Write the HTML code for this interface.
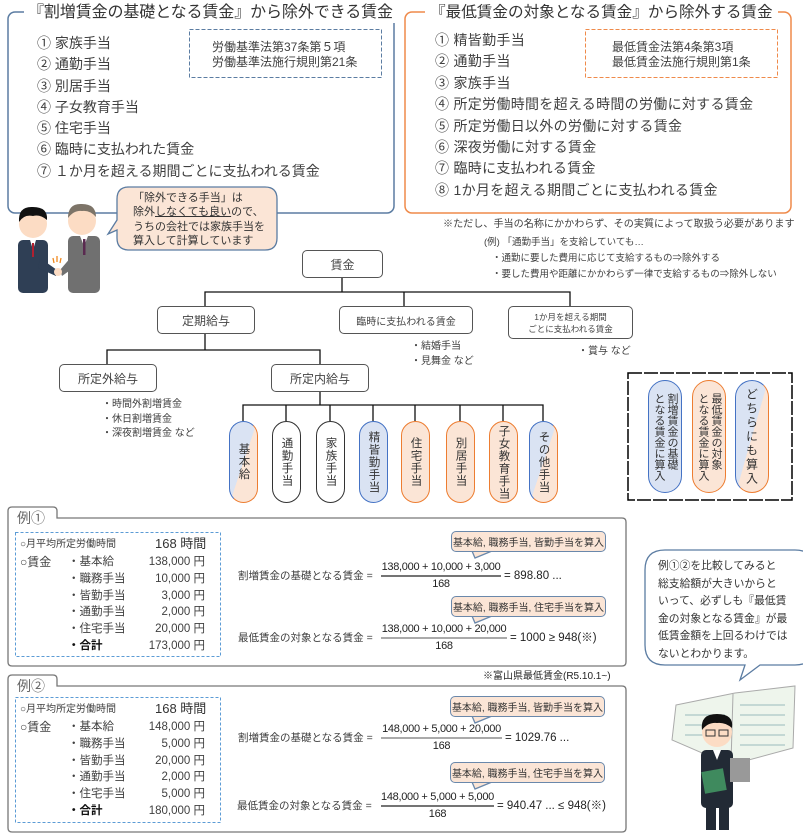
<!DOCTYPE html>
<html><head><meta charset="utf-8">
<style>
*{margin:0;padding:0;box-sizing:border-box}
body{width:803px;height:835px;position:relative;background:#fff;font-family:"Liberation Sans","Noto Sans CJK JP",sans-serif;color:#404040;overflow:hidden}
.a{position:absolute;white-space:nowrap}
.pill{position:absolute;width:29px;height:82px;border-radius:15px;border:1.5px solid #333;writing-mode:vertical-rl;font-size:11.5px;display:flex;align-items:center;justify-content:center;color:#333;letter-spacing:1px}
.tb{position:absolute;border:1.3px solid #555;border-radius:5px;background:#fff;display:flex;align-items:center;justify-content:center;text-align:center;color:#444}
.co{position:absolute;background:#fbe5d6;border:1.3px solid #6a88ab;border-radius:5px;font-size:10px;display:flex;align-items:center;justify-content:center;color:#333;white-space:nowrap}
.fr{position:absolute;text-align:center;font-size:11px;letter-spacing:-0.3px;color:#222;white-space:nowrap}
</style></head><body>

<svg class="a" style="left:0;top:0" width="803" height="835">
 <rect x="8" y="12" width="386" height="201" rx="7" fill="none" stroke="#5b7ca2" stroke-width="1.5"/>
 <rect x="405" y="12" width="386" height="201" rx="7" fill="none" stroke="#ef8a4a" stroke-width="1.5"/>
 <rect x="189.5" y="29.5" width="192" height="48" fill="none" stroke="#5b7ca2" stroke-width="1" stroke-dasharray="4,2"/>
 <rect x="585.5" y="29.5" width="192" height="48" fill="none" stroke="#ef8a4a" stroke-width="1" stroke-dasharray="4,2"/>
 <path d="M129,187 H265 Q277,187 277,199 V238 Q277,250 265,250 H129 Q117,250 117,238 V230 L108,234 L117,220 V199 Q117,187 129,187 Z" fill="#fbe5d6" stroke="#5b7ca2" stroke-width="1.3"/>
 <g stroke="#111" stroke-width="1.3" fill="none">
  <path d="M342,278 V292 M205,306 V292 H570 V306 M404,292 V306"/>
  <path d="M205,334 V350 H107 V364 M205,350 H320 V364"/>
  <path d="M320,392 V405 M243,421 V405 H543 V421 M286,405 V421 M330,405 V421 M373,405 V421 M415,405 V421 M460,405 V421 M503,405 V421"/>
 </g>
 <rect x="628" y="373" width="164" height="127" fill="none" stroke="#000" stroke-width="1.5" stroke-dasharray="14,2"/>
 <path d="M8,518 V662 Q8,666 12,666 H622 Q626,666 626,662 V522 Q626,518 622,518 H57 V511 Q57,507 53,507 H12 Q8,507 8,511 Z" fill="none" stroke="#777" stroke-width="1.3"/>
 <path d="M8,686 V828 Q8,832 12,832 H622 Q626,832 626,828 V690 Q626,686 622,686 H57 V679 Q57,675 53,675 H12 Q8,675 8,679 Z" fill="none" stroke="#777" stroke-width="1.3"/>
 <rect x="15.5" y="532.5" width="205" height="124" fill="none" stroke="#5b9bd5" stroke-width="1" stroke-dasharray="3,2"/>
 <rect x="15.5" y="697.5" width="205" height="125" fill="none" stroke="#5b9bd5" stroke-width="1" stroke-dasharray="3,2"/>
 <g fill="#fbe5d6" stroke="#6a88ab" stroke-width="1.3">
  <path d="M472,551 L475,558 L492,551"/>
  <path d="M472,616 L475,623 L492,616"/>
  <path d="M472,716 L475,723 L492,716"/>
  <path d="M472,782 L475,789 L492,782"/>
 </g>
 <g stroke-width="1.3">
  <line x1="381" y1="576" x2="501" y2="576" stroke="#222"/>
  <line x1="381" y1="638" x2="507" y2="638" stroke="#aaa" stroke-width="2"/>
  <line x1="381" y1="738" x2="502" y2="738" stroke="#aaa" stroke-width="2"/>
  <line x1="381" y1="806" x2="494" y2="806" stroke="#222"/>
 </g>
 <path d="M665,550 H795 Q815,550 815,570 V645 Q815,665 795,665 H760 L740,680 L745,665 H665 Q645,665 645,645 V570 Q645,550 665,550 Z" fill="#fff" stroke="#5b7ca2" stroke-width="1.3"/>
 <g>
  <rect x="18" y="240" width="30" height="53" rx="5" fill="#2f3f55"/>
  <path d="M30,240 L33,250 L36,240 Z" fill="#fff"/><rect x="32" y="243" width="2" height="14" fill="#b02030"/>
  <path d="M40,258 L57,270 L56,276 L38,268 Z" fill="#2f3f55"/>
  <circle cx="33" cy="224" r="14" fill="#fcdcc4"/>
  <path d="M19,222 Q18,206 33,207 Q48,207 47,220 Q40,214 33,216 Q24,214 19,222 Z" fill="#111"/>
  <rect x="68" y="236" width="32" height="57" rx="5" fill="#707070"/>
  <path d="M80,236 L84,246 L88,236 Z" fill="#fff"/><rect x="83" y="239" width="2.5" height="16" fill="#5a2a50"/>
  <path d="M72,256 L60,270 L62,276 L76,266 Z" fill="#707070"/>
  <circle cx="58" cy="272" r="4" fill="#fcdcc4"/>
  <circle cx="82" cy="221" r="14" fill="#fcdcc4"/>
  <path d="M68,218 Q68,203 82,204 Q96,204 96,217 Q90,210 82,211 Q74,210 68,218 Z" fill="#7d7468"/>
  <path d="M53,258 l1,5 M57,256 v6 M61,258 l-1,5" stroke="#f08a20" stroke-width="1.3"/>
 </g>
 <g>
  <path d="M676,705 L735,693 L795,686 L793,748 L730,765 L672,740 Z" fill="#eef5ec" stroke="#aaa"/>
  <line x1="733" y1="694" x2="731" y2="763" stroke="#aaa"/>
  <g stroke="#9bb" stroke-width="1"><path d="M740,705 h45 M740,715 h45 M740,725 h45 M740,735 h45 M740,745 h45 M685,715 h40 M685,725 h40 M685,735 h40"/></g>
  <rect x="701" y="750" width="32" height="58" rx="5" fill="#222a35"/>
  <rect x="706" y="805" width="10" height="25" fill="#222a35"/><rect x="719" y="805" width="10" height="25" fill="#222a35"/>
  <path d="M713,750 L717,760 L721,750 Z" fill="#fff"/>
  <rect x="703" y="770" width="22" height="22" fill="#3f8a5e" transform="rotate(-10 714 781)"/>
  <rect x="730" y="758" width="20" height="24" fill="#999"/>
  <circle cx="717" cy="732" r="15" fill="#fcdcc4"/>
  <path d="M702,730 Q700,714 717,714 Q734,714 732,728 Q725,722 717,723 Q708,722 702,730 Z" fill="#111"/>
  <rect x="706" y="730" width="9" height="6" fill="none" stroke="#333"/><rect x="719" y="730" width="9" height="6" fill="none" stroke="#333"/>
 </g>
</svg>

<div class="a" style="left:24px;top:3px;background:#fff;padding:0 4px;font-size:16px;line-height:20px;letter-spacing:-0.1px;color:#333">『割増賃金の基礎となる賃金』から除外できる賃金</div>
<div class="a" style="left:425px;top:3px;background:#fff;padding:0 5px;font-size:15.6px;line-height:20px;color:#333">『最低賃金の対象となる賃金』から除外する賃金</div>

<div class="a" style="left:37px;top:33px;font-size:14px;line-height:21.3px">① 家族手当<br>② 通勤手当<br>③ 別居手当<br>④ 子女教育手当<br>⑤ 住宅手当<br>⑥ 臨時に支払われた賃金<br>⑦ １か月を超える期間ごとに支払われる賃金</div>
<div class="a" style="left:212px;top:40px;font-size:12px;line-height:15px">労働基準法第37条第５項<br>労働基準法施行規則第21条</div>

<div class="a" style="left:435px;top:30px;font-size:14px;line-height:21.4px;letter-spacing:0.3px">① 精皆勤手当<br>② 通勤手当<br>③ 家族手当<br>④ 所定労働時間を超える時間の労働に対する賃金<br>⑤ 所定労働日以外の労働に対する賃金<br>⑥ 深夜労働に対する賃金<br>⑦ 臨時に支払われる賃金<br>⑧ 1か月を超える期間ごとに支払われる賃金</div>
<div class="a" style="left:612px;top:40px;font-size:12px;line-height:15px">最低賃金法第4条第3項<br>最低賃金法施行規則第1条</div>

<div class="a" style="left:443px;top:219px;font-size:10.1px;line-height:12px">※ただし、手当の名称にかかわらず、その実質によって取扱う必要があります</div>
<div class="a" style="left:484px;top:237px;font-size:9.5px;line-height:12px">(例) 「通勤手当」を支給していても…</div>
<div class="a" style="left:492px;top:251px;font-size:9.5px;line-height:16px">・通勤に要した費用に応じて支給するもの⇒除外する<br>・要した費用や距離にかかわらず一律で支給するもの⇒除外しない</div>

<div class="a" style="left:133px;top:191px;font-size:11px;line-height:14.3px;color:#333">「除外できる手当」は<br>除外<u>しなくても良い</u>ので、<br>うちの会社では家族手当を<br>算入して計算しています</div>

<div class="tb" style="left:302px;top:250px;width:81px;height:28px;font-size:12px">賃金</div>
<div class="tb" style="left:157px;top:306px;width:98px;height:28px;font-size:12px">定期給与</div>
<div class="tb" style="left:339px;top:306px;width:134px;height:28px;font-size:10px">臨時に支払われる賃金</div>
<div class="tb" style="left:508px;top:306px;width:125px;height:33px;font-size:8.5px;line-height:12px">1か月を超える期間<br>ごとに支払われる賃金</div>
<div class="tb" style="left:59px;top:364px;width:98px;height:28px;font-size:12px">所定外給与</div>
<div class="tb" style="left:271px;top:364px;width:98px;height:28px;font-size:12px">所定内給与</div>
<div class="a" style="left:411px;top:339px;font-size:10px;line-height:15px">・結婚手当<br>・見舞金 など</div>
<div class="a" style="left:578px;top:345px;font-size:10px;line-height:14px">・賞与 など</div>
<div class="a" style="left:102px;top:398px;font-size:10px;line-height:14.5px">・時間外割増賃金<br>・休日割増賃金<br>・深夜割増賃金 など</div>

<div class="pill" style="left:229px;top:421px;background:linear-gradient(to bottom right,#dae3f3 50%,#fbe5d6 50%);border-color:#4472c4 #ed7d31 #ed7d31 #4472c4">基本給</div>
<div class="pill" style="left:272px;top:421px;background:#fff">通勤手当</div>
<div class="pill" style="left:316px;top:421px;background:#fff">家族手当</div>
<div class="pill" style="left:359px;top:421px;background:#dae3f3;border-color:#4472c4">精皆勤手当</div>
<div class="pill" style="left:401px;top:421px;background:#fbe5d6;border-color:#ed7d31">住宅手当</div>
<div class="pill" style="left:446px;top:421px;background:#fbe5d6;border-color:#ed7d31">別居手当</div>
<div class="pill" style="left:489px;top:421px;background:#fbe5d6;border-color:#ed7d31">子女教育手当</div>
<div class="pill" style="left:529px;top:421px;background:linear-gradient(to bottom right,#dae3f3 50%,#fbe5d6 50%);border-color:#4472c4 #ed7d31 #ed7d31 #4472c4">その他手当</div>

<div class="pill" style="left:648px;top:380px;width:34px;height:113px;border-radius:17px;background:#dae3f3;border-color:#4472c4;font-size:11px;line-height:13px;letter-spacing:0">割増賃金の基礎<br>となる賃金に算入</div>
<div class="pill" style="left:692px;top:380px;width:34px;height:113px;border-radius:17px;background:#fbe5d6;border-color:#ed7d31;font-size:11px;line-height:13px;letter-spacing:0">最低賃金の対象<br>となる賃金に算入</div>
<div class="pill" style="left:735px;top:380px;width:34px;height:113px;border-radius:17px;background:linear-gradient(to bottom right,#dae3f3 50%,#fbe5d6 50%);border-color:#4472c4 #ed7d31 #ed7d31 #4472c4;font-size:12px;letter-spacing:2px">どちらにも算入</div>

<div class="a" style="left:658px;top:558px;font-size:10.8px;line-height:17.5px;color:#333">例①②を比較してみると<br>総支給額が大きいからと<br>いって、必ずしも『最低賃<br>金の対象となる賃金』が最<br>低賃金額を上回るわけでは<br>ないとわかります。</div>

<div class="a" style="left:17px;top:510px;font-size:14px;line-height:16px;color:#666">例①</div>
<div class="a" style="left:17px;top:678px;font-size:14px;line-height:16px;color:#666">例②</div>

<div class="a" style="left:20px;top:538px;font-size:10px;line-height:14px">○月平均所定労働時間</div>
<div class="a" style="left:155px;top:536px;font-size:13px;line-height:16px;color:#333">168 時間</div>
<div class="a" style="left:20px;top:554px;font-size:12px;line-height:16.8px">○賃金</div>
<div class="a" style="left:68px;top:554px;font-size:11.5px;line-height:16.8px">・基本給<br>・職務手当<br>・皆勤手当<br>・通勤手当<br>・住宅手当<br><b style="color:#111">・合計</b></div>
<div class="a" style="left:120px;top:554px;width:85px;text-align:right;font-size:11.5px;line-height:16.8px">138,000 円<br>10,000 円<br>3,000 円<br>2,000 円<br>20,000 円<br>173,000 円</div>

<div class="a" style="left:20px;top:703px;font-size:10px;line-height:14px">○月平均所定労働時間</div>
<div class="a" style="left:155px;top:701px;font-size:13px;line-height:16px;color:#333">168 時間</div>
<div class="a" style="left:20px;top:719px;font-size:12px;line-height:16.8px">○賃金</div>
<div class="a" style="left:68px;top:719px;font-size:11.5px;line-height:16.8px">・基本給<br>・職務手当<br>・皆勤手当<br>・通勤手当<br>・住宅手当<br><b style="color:#111">・合計</b></div>
<div class="a" style="left:120px;top:719px;width:85px;text-align:right;font-size:11.5px;line-height:16.8px">148,000 円<br>5,000 円<br>20,000 円<br>2,000 円<br>5,000 円<br>180,000 円</div>

<div class="co" style="left:451px;top:531px;width:155px;height:21px">基本給, 職務手当, 皆勤手当を算入</div>
<div class="co" style="left:451px;top:596px;width:155px;height:21px">基本給, 職務手当, 住宅手当を算入</div>
<div class="co" style="left:450px;top:696px;width:155px;height:21px">基本給, 職務手当, 皆勤手当を算入</div>
<div class="co" style="left:450px;top:762px;width:155px;height:21px">基本給, 職務手当, 住宅手当を算入</div>

<div class="a" style="left:238px;top:569px;font-size:10.5px;line-height:14px">割増賃金の基礎となる賃金 =</div>
<div class="fr" style="left:381px;top:561px;width:120px;line-height:13px">138,000 + 10,000 + 3,000</div>
<div class="fr" style="left:381px;top:578px;width:120px;line-height:13px">168</div>
<div class="a" style="left:504px;top:569px;font-size:11.5px;line-height:14px;color:#222">= 898.80 ...</div>

<div class="a" style="left:238px;top:631px;font-size:10.5px;line-height:14px">最低賃金の対象となる賃金 =</div>
<div class="fr" style="left:381px;top:623px;width:126px;line-height:13px">138,000 + 10,000 + 20,000</div>
<div class="fr" style="left:381px;top:640px;width:126px;line-height:13px">168</div>
<div class="a" style="left:510px;top:631px;font-size:11.5px;line-height:14px;color:#222">= 1000 ≥ 948(※)</div>

<div class="a" style="left:483px;top:670px;font-size:10px;line-height:13px;color:#222">※富山県最低賃金(R5.10.1~)</div>

<div class="a" style="left:238px;top:731px;font-size:10.5px;line-height:14px">割増賃金の基礎となる賃金 =</div>
<div class="fr" style="left:381px;top:723px;width:121px;line-height:13px">148,000 + 5,000 + 20,000</div>
<div class="fr" style="left:381px;top:740px;width:121px;line-height:13px">168</div>
<div class="a" style="left:505px;top:731px;font-size:11.5px;line-height:14px;color:#222">= 1029.76 ...</div>

<div class="a" style="left:237px;top:799px;font-size:10.5px;line-height:14px">最低賃金の対象となる賃金 =</div>
<div class="fr" style="left:381px;top:791px;width:113px;line-height:13px">148,000 + 5,000 + 5,000</div>
<div class="fr" style="left:381px;top:808px;width:113px;line-height:13px">168</div>
<div class="a" style="left:497px;top:799px;font-size:11.5px;line-height:14px;color:#222">= 940.47 ... ≤ 948(※)</div>

</body></html>
